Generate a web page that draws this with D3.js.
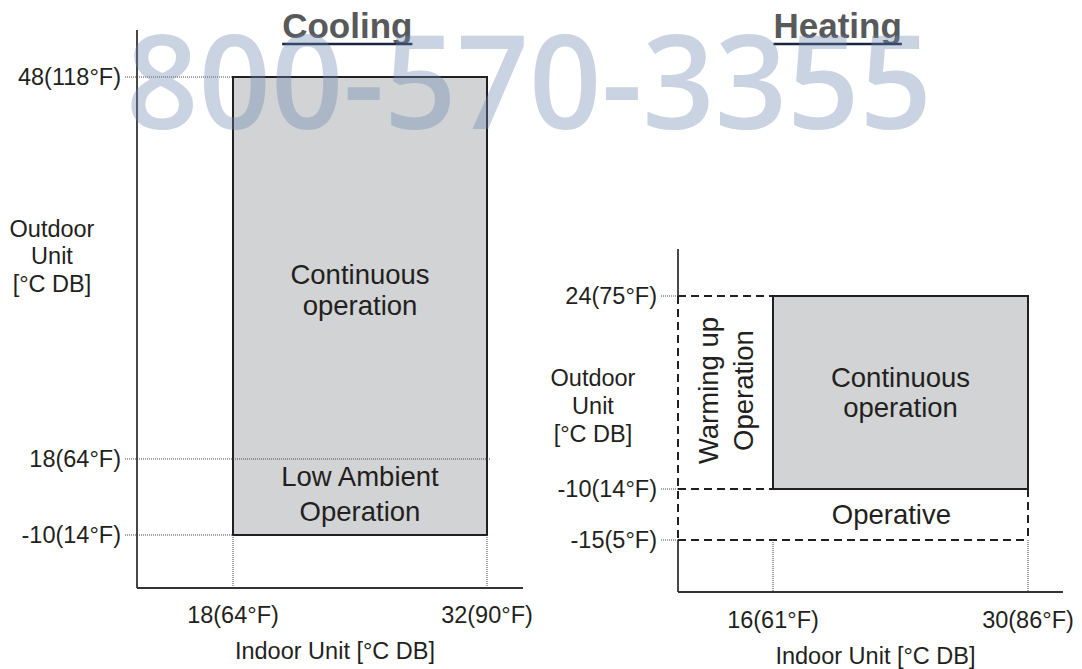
<!DOCTYPE html>
<html>
<head>
<meta charset="utf-8">
<script src="https://cdn.jsdelivr.net/npm/d3@7"></script>
<style>
  body { margin: 0; background: #fff; }
  text { font-family: "Liberation Sans", Arial, Helvetica, sans-serif; fill: #231f20; }
</style>
</head>
<body>
<svg id="chart" width="1082" height="669"></svg>
<script>
// cooling panel values
const coolTicksX = [18, 32];
const coolTickLabelsX = ["18(64°F)", "32(90°F)"];
const coolTicksY = [48, 18, -10];
const coolTickLabelsY = ["48(118°F)", "18(64°F)", "-10(14°F)"];
const coolContinuous = [18, 32, 18, 48];   // x0, x1, y0, y1
const coolLowAmbient = [18, 32, -10, 18];

// heating panel values
const heatTicksX = [16, 30];
const heatTickLabelsX = ["16(61°F)", "30(86°F)"];
const heatTicksY = [24, -10, -15];
const heatTickLabelsY = ["24(75°F)", "-10(14°F)", "-15(5°F)"];
const heatContinuous = [16, 30, -10, 24];
const heatOperative = [16, 30, -15, -10];

const titles = ["Cooling", "Heating"];
const yLabel = ["Outdoor", "Unit", "[°C DB]"];
const xLabel = "Indoor Unit [°C DB]";

const svg = d3.select("#chart")

// schematic (not to scale) axes, so the scales are piecewise
const coolX = d3.scaleLinear().domain([12.7, 18, 32, 34]).range([137, 233, 487, 523])
const coolY = d3.scaleLinear().domain([-29.5, -10, 18, 48, 51.7]).range([588, 535, 459, 77, 30])
const heatX = d3.scaleLinear().domain([10.8, 16, 30, 31.9]).range([678, 773, 1028, 1063])
const heatY = d3.scaleLinear().domain([-20, -15, -10, 24, 28.4]).range([592, 540, 489, 296, 249])

const ink = "#231f20"

// centred block of lines
function textBlock(g, lines, cx, cy, fs, lh){
	let first = cy - (lines.length - 1) * lh / 2 + fs * 0.716 / 2
	lines.forEach(function (d, i){
		g.append("text")
			.attr("x", cx)
			.attr("y", first + i * lh)
			.attr("text-anchor", "middle")
			.attr("font-size", fs)
			.text(d)
	})
}

function line(g, x1, y1, x2, y2, style){
	let l = g.append("line")
		.attr("x1", x1).attr("y1", y1)
		.attr("x2", x2).attr("y2", y2)
		.attr("stroke", ink)
	if(style == "dot"){
		l.attr("stroke-width", 1).attr("stroke-dasharray", "1,1").attr("stroke", "#444")
	}
	else if(style == "dash"){
		l.attr("stroke-width", 2).attr("stroke-dasharray", "8,5")
	}
	else {
		l.attr("stroke-width", 1.8).attr("stroke", "#333")
	}
	return l
}

function axisLabels(g, x, ticksX, labelsX, xBase, yMid, lh){
	let x0 = x.range()[0]
	// y axis title
	textBlock(g, yLabel, x0 - 85, yMid, 23.5, lh)
	// x ticks
	ticksX.forEach(function (d, i){
		g.append("text")
			.attr("x", x(d))
			.attr("y", xBase)
			.attr("text-anchor", "middle")
			.attr("font-size", 23.5)
			.text(labelsX[i])
	})
	g.append("text")
		.attr("x", (x.range()[0] + x.range()[3]) / 2 + 5)
		.attr("y", xBase + 36)
		.attr("text-anchor", "middle")
		.attr("font-size", 23.5)
		.text(xLabel)
}

function yTickLabels(g, x, y, ticks, labels, gap){
	let x0 = x.range()[0]
	ticks.forEach(function (d, i){
		g.append("text")
			.attr("x", x0 - gap)
			.attr("y", y(d))
			.attr("dy", "0.35em")
			.attr("text-anchor", "end")
			.attr("font-size", 23.5)
			.text(labels[i])
	})
}

// ---------- cooling ----------
let cool = svg.append("g")

cool.append("rect")
	.attr("x", coolX(coolContinuous[0]))
	.attr("y", coolY(coolContinuous[3]))
	.attr("width", coolX(coolContinuous[1]) - coolX(coolContinuous[0]))
	.attr("height", coolY(coolLowAmbient[2]) - coolY(coolContinuous[3]))
	.attr("fill", "#d1d3d4")
	.attr("stroke", ink)
	.attr("stroke-width", 2)

// guide lines
line(cool, coolX.range()[0] - 12, coolY(48), coolX(18), coolY(48), "dot")
line(cool, coolX.range()[0] - 12, coolY(18), coolX(32) + 3, coolY(18), "dot")
line(cool, coolX.range()[0] - 12, coolY(-10), coolX(18), coolY(-10), "dot")
coolTicksX.forEach(function (d){
	line(cool, coolX(d), coolY(-10), coolX(d), coolY.range()[0], "dot")
})

// axes
line(cool, coolX.range()[0], coolY.range()[4], coolX.range()[0], coolY.range()[0])
line(cool, coolX.range()[0], coolY.range()[0], coolX.range()[3], coolY.range()[0])

yTickLabels(cool, coolX, coolY, coolTicksY, coolTickLabelsY, 16)
axisLabels(cool, coolX, coolTicksX, coolTickLabelsX, 623, 256, 27.5)

textBlock(cool, ["Continuous", "operation"], coolX(25), (coolY(18) + coolY(48)) / 2 + 22, 27.5, 31)
textBlock(cool, ["Low Ambient", "Operation"], coolX(25), (coolY(-10) + coolY(18)) / 2 - 3, 27.5, 35)

// ---------- heating ----------
let heat = svg.append("g")

heat.append("rect")
	.attr("x", heatX(heatContinuous[0]))
	.attr("y", heatY(heatContinuous[3]))
	.attr("width", heatX(heatContinuous[1]) - heatX(heatContinuous[0]))
	.attr("height", heatY(heatContinuous[2]) - heatY(heatContinuous[3]))
	.attr("fill", "#d1d3d4")
	.attr("stroke", ink)
	.attr("stroke-width", 2)

let hx0 = heatX.range()[0]
heatTicksY.forEach(function (d){
	line(heat, hx0 - 17, heatY(d), hx0, heatY(d), "dot")
})
line(heat, hx0, heatY(24), heatX(16), heatY(24), "dash")
line(heat, hx0, heatY(-10), heatX(16), heatY(-10), "dash")
line(heat, hx0, heatY(heatOperative[2]), heatX(heatOperative[1]), heatY(heatOperative[2]), "dash")
line(heat, heatX(heatOperative[1]), heatY(heatOperative[3]), heatX(heatOperative[1]), heatY(heatOperative[2]), "dash")
heatTicksX.forEach(function (d){
	line(heat, heatX(d), heatY(-15), heatX(d), heatY.range()[0], "dot")
})

// axes: dashed part of y axis between 24 and -15
line(heat, hx0, heatY.range()[4], hx0, heatY(24))
line(heat, hx0, heatY(24), hx0, heatY(-15), "dash")
line(heat, hx0, heatY(-15), hx0, heatY.range()[0])
line(heat, hx0, heatY.range()[0], heatX.range()[3], heatY.range()[0])

yTickLabels(heat, heatX, heatY, heatTicksY, heatTickLabelsY, 21)
axisLabels(heat, heatX, heatTicksX, heatTickLabelsX, 628, 406, 28)

textBlock(heat, ["Continuous", "operation"], heatX(23), (heatY(-10) + heatY(24)) / 2, 27.5, 30)
textBlock(heat, ["Operative"], heatX(22.5), (heatY(-10) + heatY(-15)) / 2, 27.5, 30)

// warming up: rotated block in the strip left of the rect
let warm = heat.append("g")
	.attr("transform", "translate(" + (hx0 + heatX(16)) / 2 + "," + ((heatY(24) + heatY(-10)) / 2 - 2) + ") rotate(-90)")
textBlock(warm, ["Warming up", "Operation"], 0, 0, 27.5, 35)

// ---------- titles ----------
let titleX = [coolX(24.3), heatX(19.55)]
titles.forEach(function (d, i){
	let t = svg.append("text")
		.attr("x", titleX[i])
		.attr("y", 38)
		.attr("text-anchor", "middle")
		.attr("font-size", 35)
		.attr("font-weight", "bold")
		.style("fill", "#58595b")
		.text(d)
	let w = t.node().getComputedTextLength()
	svg.append("line")
		.attr("x1", titleX[i] - w / 2).attr("x2", titleX[i] + w / 2)
		.attr("y1", 44).attr("y2", 44)
		.attr("stroke", "#1c2540")
		.attr("stroke-width", 2.5)
})

// ---------- watermark ----------
svg.append("text")
	.attr("x", 126)
	.attr("y", 129)
	.attr("font-size", 130)
	.attr("font-weight", 600)
	.attr("textLength", 806)
	.attr("lengthAdjust", "spacingAndGlyphs")
	.style("font-family", "'Open Sans', sans-serif")
	.style("fill", "rgb(106,132,176)")
	.style("fill-opacity", 0.36)
	.text("800-570-3355")
</script>
</body>
</html>
